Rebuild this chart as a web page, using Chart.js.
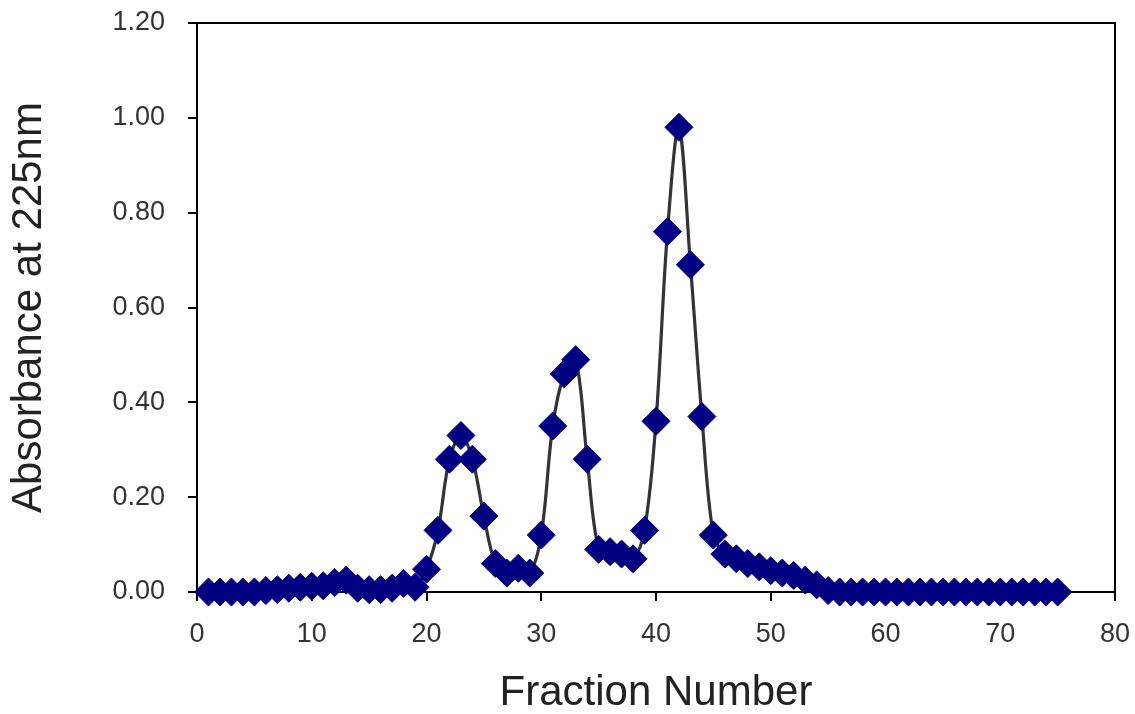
<!DOCTYPE html>
<html>
<head>
<meta charset="utf-8">
<script src="https://cdn.jsdelivr.net/npm/chart.js@4"></script>
<style>
  html, body { margin: 0; padding: 0; background: #fff; }
  #wrap { width: 1135px; height: 714px; position: relative; }
</style>
</head>
<body>
<div id="wrap"><canvas id="chart"></canvas></div>
<script>
// fraction numbers on the x axis
const fractions = [
  1, 2, 3, 4, 5, 6, 7, 8, 9, 10,
  11, 12, 13, 14, 15, 16, 17, 18, 19, 20,
  21, 22, 23, 24, 25, 26, 27, 28, 29, 30,
  31, 32, 33, 34, 35, 36, 37, 38, 39, 40,
  41, 42, 43, 44, 45, 46, 47, 48, 49, 50,
  51, 52, 53, 54, 55, 56, 57, 58, 59, 60,
  61, 62, 63, 64, 65, 66, 67, 68, 69, 70,
  71, 72, 73, 74, 75
];

// absorbance at 225nm
const absorbance = [
  0.000, 0.000, 0.000, 0.000, 0.000, 0.003, 0.005, 0.008, 0.010, 0.012,
  0.013, 0.020, 0.025, 0.008, 0.005, 0.005, 0.008, 0.018, 0.010, 0.048,
  0.130, 0.280, 0.330, 0.280, 0.160, 0.060, 0.040, 0.050, 0.040, 0.120,
  0.350, 0.460, 0.490, 0.280, 0.090, 0.085, 0.080, 0.070, 0.130, 0.360,
  0.760, 0.980, 0.690, 0.370, 0.120, 0.080, 0.070, 0.060, 0.053, 0.045,
  0.040, 0.035, 0.025, 0.015, 0.003, 0.000, 0.000, 0.000, 0.000, 0.000,
  0.000, 0.000, 0.000, 0.000, 0.000, 0.000, 0.000, 0.000, 0.000, 0.000,
  0.000, 0.000, 0.000, 0.000, 0.000
];

// axis ticks
const xTicks = [0, 10, 20, 30, 40, 50, 60, 70, 80];
const yTicks = [0, 0.2, 0.4, 0.6, 0.8, 1.0, 1.2];

const points = fractions.map((f, i) => ({ x: f, y: absorbance[i] }));

// top and right edges of the plot box
const plotBox = {
  id: "plotBox",
  beforeDatasetsDraw(chart) {
    const { ctx, chartArea } = chart;
    ctx.save();
    ctx.strokeStyle = "#000";
    ctx.lineWidth = 2;
    ctx.beginPath();
    ctx.moveTo(chartArea.left - 9, chartArea.top);
    ctx.lineTo(chartArea.right, chartArea.top);
    ctx.lineTo(chartArea.right, chartArea.bottom);
    ctx.stroke();
    ctx.restore();
  },
};

const fontFamily = "'Liberation Sans', Arial, sans-serif";
const tickFont = { family: fontFamily, size: 27 };
const xTitleFont = { family: fontFamily, size: 42, lineHeight: 1 };
const yTitleFont = { family: fontFamily, size: 42, lineHeight: 1 };

new Chart(document.getElementById("chart"), {
  type: "line",
  data: {
    datasets: [
      {
        label: "Absorbance",
        data: points,
        borderColor: "#333333",
        borderWidth: 3.2,
        tension: 0.35,
        pointStyle: "rectRot",
        pointRadius: 14,
        pointBackgroundColor: "#000080",
        pointBorderColor: "#000080",
        pointBorderWidth: 1,
        clip: false,
      },
    ],
  },
  options: {
    responsive: true,
    maintainAspectRatio: false,
    animation: false,
    events: [],
    layout: { padding: { top: 23, right: 20, left: 0, bottom: 0 } },
    plugins: {
      legend: { display: false },
      tooltip: { enabled: false },
    },
    scales: {
      x: {
        type: "linear",
        min: 0,
        max: 80,
        afterBuildTicks: (scale) => {
          scale.ticks = xTicks.map((v) => ({ value: v }));
        },
        afterFit: (scale) => {
          scale.height = 122;
          scale.paddingLeft = 0;
          scale.paddingRight = 0;
        },
        grid: {
          drawOnChartArea: false,
          color: "#000",
          lineWidth: 2,
          tickLength: 9,
        },
        border: { color: "#000", width: 2 },
        ticks: {
          font: tickFont,
          color: "#333",
          padding: 17,
          maxRotation: 0,
        },
        title: {
          display: true,
          text: "Fraction Number",
          font: xTitleFont,
          color: "#222",
          padding: { top: 0, bottom: 0 },
        },
      },
      y: {
        min: 0,
        max: 1.2,
        afterBuildTicks: (scale) => {
          scale.ticks = yTicks.map((v) => ({ value: v }));
        },
        afterFit: (scale) => {
          scale.width = 197;
          scale.paddingTop = 0;
          scale.paddingBottom = 0;
        },
        grid: {
          drawOnChartArea: false,
          color: "#000",
          lineWidth: 2,
          tickLength: 9,
        },
        border: { color: "#000", width: 2 },
        ticks: {
          font: tickFont,
          color: "#333",
          padding: 23,
          callback: (v) => Number(v).toFixed(2),
        },
        title: {
          display: true,
          text: "Absorbance at 225nm",
          font: yTitleFont,
          color: "#222",
          padding: { top: 8, bottom: 0 },
        },
      },
    },
  },
  plugins: [plotBox],
});
</script>
</body>
</html>
